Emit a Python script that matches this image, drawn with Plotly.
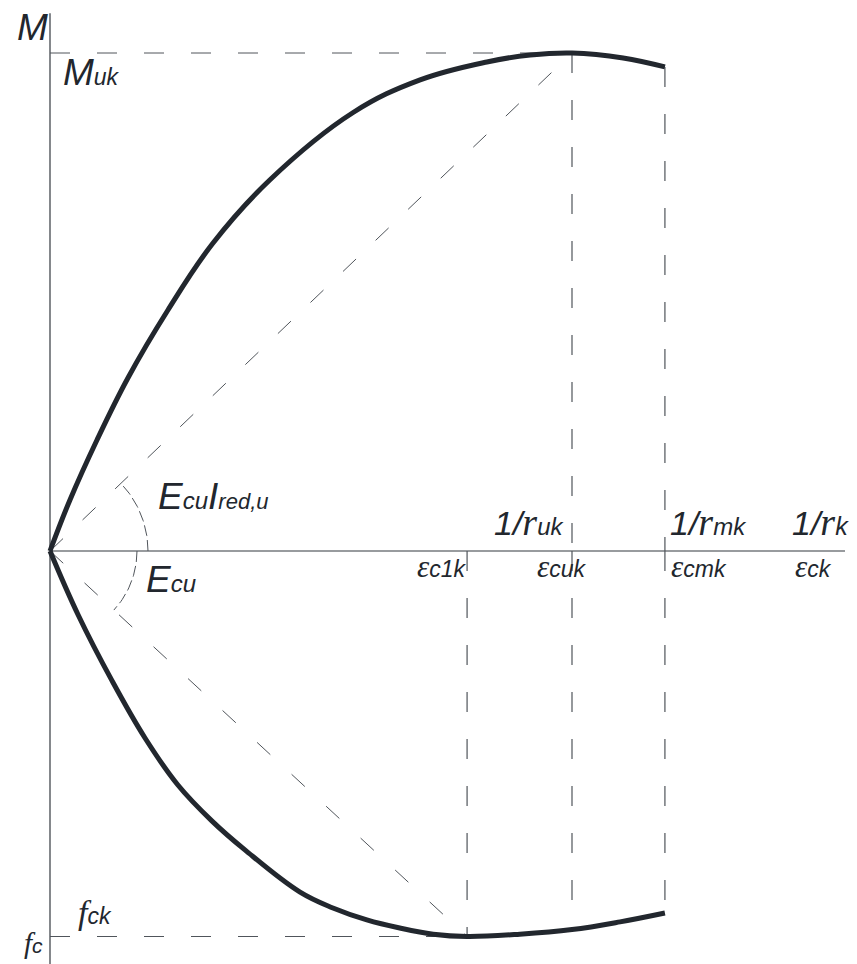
import numpy as np
import plotly.graph_objects as go

# page body adds an 8px margin, so the figure is 8px smaller each way
W, H = 849, 956
OFF = 8

# upper branch: moment-curvature, normalised (1/r_uk = 1, M_uk = 1)
curv_upper = [0.0, 0.038, 0.090, 0.149, 0.226, 0.312, 0.421, 0.580,
              0.709, 0.837, 0.920, 1.0, 1.098, 1.178]
m_upper = [0.0, 0.102, 0.223, 0.347, 0.484, 0.618, 0.745, 0.880,
           0.946, 0.982, 0.996, 1.0, 0.990, 0.972]

# lower branch: stress-strain, normalised (sigma / f_c)
strain_lower = [0.0, 0.054, 0.119, 0.182, 0.245, 0.310, 0.374, 0.479,
                0.542, 0.607, 0.670, 0.734, 0.799, 0.900, 1.0, 1.092, 1.178]
s_lower = [0.0, 0.166, 0.337, 0.485, 0.607, 0.700, 0.776, 0.885,
           0.926, 0.957, 0.978, 0.994, 1.0, 0.994, 0.982, 0.962, 0.939]

# key abscissae: eps_c1k, eps_cuk / (1/r_uk), eps_cmk / (1/r_mk)
eps_c1k = 0.799
eps_cuk = 1.0
eps_cmk = 1.178
x_end = 1.523

# drawing scale (px per unit) and origin position in the figure
SX, SY1, SY2 = 522, 498, 385.5
X0, Y0 = 50 - OFF, 551 - OFF

INK = "#22272e"
AX = "#33383f"
DASH = "#50555b"

fig = go.Figure()


def seg(x, y, axis="y", dash="20px,27px", width=1, color=DASH):
    fig.add_trace(go.Scatter(x=x, y=y, yaxis=axis, mode="lines",
                             line=dict(color=color, width=width, dash=dash),
                             hoverinfo="skip", showlegend=False))


# axes
seg([0, 0], [-0.85, 1.080], dash="solid", width=1.2, color=AX)
seg([0, x_end], [0, 0], dash="solid", width=1.2, color=AX)

# reference dashed lines
seg([0, eps_cuk], [1, 1])
seg([eps_cuk, eps_cuk], [1, 0], width=1.2)
seg([eps_cuk, eps_cuk], [0, s_lower[14]], axis="y2", width=1.2)
seg([eps_cmk, eps_cmk], [m_upper[-1], 0], width=1.2)
seg([eps_cmk, eps_cmk], [0, s_lower[-1]], axis="y2", width=1.2)
seg([eps_c1k, eps_c1k], [0, 1], axis="y2", width=1.2)
seg([0, eps_c1k], [1, 1], axis="y2")
seg([0, eps_cuk], [0, 1], dash="18px,27px")
seg([0, eps_c1k], [0, 1], axis="y2", dash="18px,29px")

# angle arcs
a1 = np.linspace(0, np.arctan2(SY1, SX), 30)
seg(98 * np.cos(a1) / SX, 98 * np.sin(a1) / SY1, dash="11px,4px")
a2 = np.linspace(0, np.arctan2(SY2, eps_c1k * SX), 30)
seg(87 * np.cos(a2) / SX, 87 * np.sin(a2) / SY2, axis="y2", dash="11px,4px")

# curves
fig.add_trace(go.Scatter(x=curv_upper, y=m_upper, mode="lines",
                         line=dict(color=INK, width=5, shape="spline",
                                   smoothing=1.1),
                         hoverinfo="skip", showlegend=False))
fig.add_trace(go.Scatter(x=strain_lower, y=s_lower, yaxis="y2", mode="lines",
                         line=dict(color=INK, width=5, shape="spline",
                                   smoothing=1.1),
                         hoverinfo="skip", showlegend=False))


def sm(t, size=22):
    return f"<span style='font-size:{size}px'>{t}</span>"


def serif(t, size=32):
    return f"<span style='font-family:Liberation Serif;font-size:{size}px'>{t}</span>"


def label(px, py, text, size=34, anchor="left"):
    fig.add_annotation(x=(px - OFF) / W, y=1 - (py - OFF) / H,
                       xref="paper", yref="paper",
                       text=text, showarrow=False, xanchor=anchor,
                       yanchor="middle",
                       font=dict(family="Liberation Sans", size=size,
                                 color=INK, style="italic"))


label(15, 27, "M", 37)
label(61, 73, "M" + sm("uk", 23), 37)
label(156, 496, "E" + sm("cu", 24) + "I" + sm("red,u", 22), 37)
label(144, 579, "E" + sm("cu", 24), 37)
label(567, 522, "1/" + serif("r", 38) + sm("uk", 24), 34, anchor="right")
label(668, 522, "1/" + serif("r", 38) + sm("mk", 24), 34)
label(790, 522, "1/" + serif("r", 38) + sm("k", 25), 34)
label(469, 566, serif("ε", 31) + "c1k", 23, anchor="right")
label(535, 566, serif("ε", 31) + "cuk", 23)
label(669, 566, serif("ε", 31) + "cmk", 23)
label(793, 566, serif("ε", 31) + "ck", 23)
label(76, 912, serif("f", 34) + "ck", 23)
label(22, 943, serif("f", 29) + "c", 21)

fig.update_layout(
    width=W,
    height=H,
    margin=dict(l=0, r=0, t=0, b=0),
    paper_bgcolor="white",
    plot_bgcolor="white",
    showlegend=False,
    xaxis=dict(range=[-X0 / SX, (W - X0) / SX], visible=False,
               fixedrange=True),
    yaxis=dict(range=[-(H - Y0) / SY1, Y0 / SY1], visible=False,
               fixedrange=True),
    yaxis2=dict(range=[(H - Y0) / SY2, -Y0 / SY2], visible=False,
                overlaying="y", fixedrange=True),
)

fig.write_html("out.html")
